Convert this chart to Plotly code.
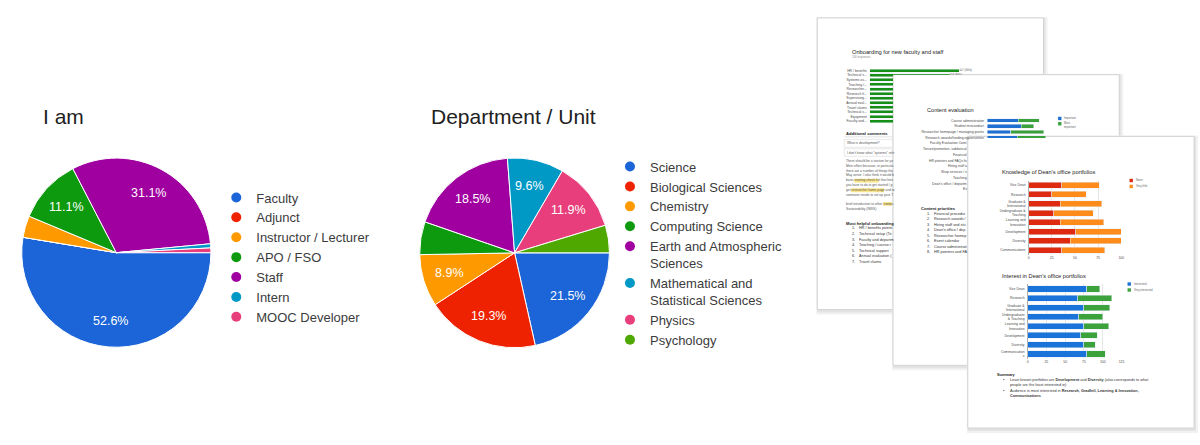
import math
import plotly.graph_objects as go

W, H = 1200, 445
FONT = "Liberation Sans, Arial, sans-serif"

# ---------------- data ----------------
role_labels = ["Faculty", "Adjunct", "Instructor / Lecturer", "APO / FSO", "Staff", "Intern", "MOOC Developer"]
role_values = [52.6, 0.0, 3.7, 11.1, 31.1, 0.7, 0.8]
role_colors = ["#1c65d8", "#ee2200", "#ff9900", "#0e9a0e", "#a0009f", "#0099c6", "#e83f7c"]

dept_labels = ["Science", "Biological Sciences", "Chemistry", "Computing Science",
               "Earth and Atmospheric<br>Sciences", "Mathematical and<br>Statistical Sciences",
               "Physics", "Psychology"]
dept_values = [21.5, 19.3, 8.9, 5.6, 18.5, 9.6, 11.9, 4.7]
dept_colors = ["#1c65d8", "#ee2200", "#ff9900", "#0e9a0e", "#a0009f", "#0099c6", "#e83f7c", "#4ea800"]

# back document: onboarding chart
onboard_labels = ["HR / benefits", "Technical setup", "Systems used", "Teaching / courses",
                  "Researcher homepage", "Research funding", "Supervising students",
                  "Annual evaluation", "Travel claims", "Technical support", "Equipment",
                  "Faculty and department"]
onboard_tick_labels = ["HR / benefits", "Technical s...", "Systems us...", "Teaching /...",
                       "Researcher...", "Research fi...", "Supervising...", "Annual eval...",
                       "Travel claims", "Technical s...", "Equipment", "Faculty and..."]
onboard_counts = [117, 104, 99, 95, 91, 88, 84, 80, 76, 71, 66, 60]
onboard_total = 130

# middle document: content evaluation (visible rows)
content_labels = ["Course administration", "Student misconduct",
                  "Researcher homepage / managing grants", "Research awards/funding opportunities"]
content_important = [45, 49, 34, 43]
content_most = [30, 18, 47, 41]
content_hidden_labels = ["Faculty Evaluation Comi", "Tenure/promotion, sabbatical", "Financial",
                         "HR pointers and FAQs fo", "Hiring staff a", "Shop services / s",
                         "Teaching", "Dean's office / departm", "Ev"]
content_priorities = ["Financial procedur", "Research awards /", "Hiring staff and stu",
                      "Dean's office / dep", "Researcher homep", "Event calendar",
                      "Course administrati", "HR pointers and FA"]

# front document
portfolio_labels = ["Vice Dean", "Research", "Graduate &<br>International", "Undergraduate &<br>Teaching",
                    "Learning and<br>Innovation", "Development", "Diversity", "Communications"]
interest_tick_labels = ["Vice Dean", "Research", "Graduate &<br>International", "Undergraduate<br>& Teaching",
                        "Learning and<br>Innovation", "Development", "Diversity", "Communication<br>s"]
knowledge_none = [36, 25, 34, 27, 34, 51, 45, 36]
knowledge_little = [40, 37, 45, 43, 47, 49, 55, 46]
interest_interested = [79, 67, 75, 68, 75, 71, 75, 79]
interest_very = [17, 45, 34, 32, 33, 22, 15, 24]

# ---------------- helpers ----------------
def fx(x):
    return x / W

def fy(y):
    return 1 - y / H

shapes = []
annotations = []

def rect(x0, y0, x1, y1, fill, line=None, lw=0):
    shapes.append(dict(type="rect", xref="paper", yref="paper", layer="below",
                       x0=fx(x0), x1=fx(x1), y0=fy(y1), y1=fy(y0), fillcolor=fill,
                       line=dict(color=line or fill, width=lw)))

def note(x, y, text, size, color="#444", anchor="left", bold=False):
    annotations.append(dict(x=fx(x), y=fy(y), xref="paper", yref="paper",
                            text=f"<b>{text}</b>" if bold else text, showarrow=False,
                            xanchor=anchor, yanchor="middle", align="left", borderpad=0,
                            font=dict(size=size, color=color, family=FONT)))

fig = go.Figure()

# ---------------- pies ----------------
PIE1 = dict(cx=115.7, cy=253.8, r=95.0)
PIE2 = dict(cx=515.3, cy=254.0, r=95.3)
LABEL_R = 0.72

def add_pie(labels, values, colors, geo, legend_name, min_label):
    fig.add_trace(go.Pie(labels=labels, values=values, sort=False, direction="clockwise",
                         rotation=90, textinfo="none", showlegend=False, hoverinfo="label+percent",
                         marker=dict(colors=colors, line=dict(color="white", width=1)),
                         domain=dict(x=[fx(geo["cx"] - geo["r"]), fx(geo["cx"] + geo["r"])],
                                     y=[fy(geo["cy"] + geo["r"]), fy(geo["cy"] - geo["r"])])))
    for lab, col in zip(labels, colors):
        fig.add_trace(go.Scatter(x=[None], y=[None], mode="markers", name=lab,
                                 marker=dict(color=col, size=10, symbol="circle"),
                                 legend=legend_name, showlegend=True, hoverinfo="skip",
                                 xaxis="x", yaxis="y"))
    total = sum(values)
    cum = 0.0
    for v in values:
        frac = v / total
        mid = math.radians((cum + frac / 2) * 360)
        cum += frac
        if v < min_label:
            continue
        x = geo["cx"] + LABEL_R * geo["r"] * math.cos(mid)
        y = geo["cy"] + LABEL_R * geo["r"] * math.sin(mid)
        annotations.append(dict(x=fx(x), y=fy(y), xref="paper", yref="paper", text=f"{v:.1f}%",
                                showarrow=False, xanchor="center", yanchor="middle",
                                font=dict(size=12.5, color="white", family=FONT)))

add_pie(role_labels, role_values, role_colors, PIE1, "legend", 5)
add_pie(dept_labels, dept_values, dept_colors, PIE2, "legend2", 7)

note(41, 117, "I am", 21, "#212121")
note(430.5, 117, "Department / Unit", 21, "#212121")

# ---------------- documents (paper sheets) ----------------
def sheet(x0, y0, x1, y1):
    rect(x0 - 1, y0 - 1, x1 + 4, y1 + 5, "#f2f2f2")
    rect(x0, y0, x1 + 2, y1 + 3, "#e3e3e3")
    rect(x0, y0, x1, y1, "white", "#d2d2d2", 1)

# back sheet
sheet(819, 18, 1046, 311)
rect(855.7, 179.6, 880.7, 183.4, "#fbe58a")
rect(852.7, 189.2, 886, 193.0, "#fbe58a")
rect(885, 202.9, 895, 206.6, "#fbe58a")
shapes.append(dict(type="line", xref="paper", yref="paper", layer="below", x0=fx(846), x1=fx(900),
                   y0=fy(137.5), y1=fy(137.5), line=dict(color="#d8d8d8", width=0.8)))
rect(846, 140, 900, 148, "rgba(0,0,0,0)", "#e2e2e2", 0.8)
rect(846, 149.5, 900, 157, "rgba(0,0,0,0)", "#e2e2e2", 0.8)
# middle sheet
sheet(895, 75, 1122, 367)
# front sheet
sheet(970, 137, 1197, 430)

# legend squares on sheets
def square(x, y, col, s=3.4):
    rect(x - s / 2, y - s / 2, x + s / 2, y + s / 2, col)

square(1062.3, 119, "#1f6fd0")
square(1062.3, 124.3, "#3aa03a")
square(1134, 181.3, "#de2a10")
square(1134, 187.3, "#ff8c1a")
square(1132, 285.3, "#1a73d8")
square(1132, 291.3, "#3ca33c")

# ---------------- sheet charts ----------------
TICK = dict(size=3.4, color="#4a4a4a", family=FONT)

# back sheet: onboarding, all rows clipped at the middle sheet's edge
fig.add_trace(go.Bar(y=onboard_labels, x=onboard_counts, orientation="h", marker_color="#168f16",
                     xaxis="x", yaxis="y", showlegend=False, hoverinfo="skip"))
# back sheet: top row not covered by middle sheet
fig.add_trace(go.Bar(y=onboard_labels, x=onboard_counts, orientation="h", marker_color="#168f16",
                     xaxis="x2", yaxis="y2", showlegend=False, hoverinfo="skip",
                     text=[f"{c} ({round(c / onboard_total * 100)}%)" for c in onboard_counts],
                     textposition="outside", textfont=dict(size=3.6, color="#444", family=FONT)))

# middle sheet: content evaluation
fig.add_trace(go.Bar(y=content_labels, x=content_important, orientation="h", marker_color="#1f6fd0",
                     xaxis="x3", yaxis="y3", showlegend=False, hoverinfo="skip"))
fig.add_trace(go.Bar(y=content_labels, x=content_most, orientation="h", marker_color="#3aa03a",
                     xaxis="x3", yaxis="y3", showlegend=False, hoverinfo="skip"))

# front sheet: knowledge / interest
fig.add_trace(go.Bar(y=portfolio_labels, x=knowledge_none, orientation="h", marker_color="#de2a10",
                     xaxis="x4", yaxis="y4", showlegend=False, hoverinfo="skip"))
fig.add_trace(go.Bar(y=portfolio_labels, x=knowledge_little, orientation="h", marker_color="#ff8c1a",
                     xaxis="x4", yaxis="y4", showlegend=False, hoverinfo="skip"))
fig.add_trace(go.Bar(y=portfolio_labels, x=interest_interested, orientation="h", marker_color="#1a73d8",
                     xaxis="x5", yaxis="y5", showlegend=False, hoverinfo="skip"))
fig.add_trace(go.Bar(y=portfolio_labels, x=interest_very, orientation="h", marker_color="#3ca33c",
                     xaxis="x5", yaxis="y5", showlegend=False, hoverinfo="skip"))

def xax(x0, x1, y_anchor, rng, show=False, dtick=None):
    d = dict(domain=[fx(x0), fx(x1)], anchor=y_anchor, range=rng, fixedrange=True,
             showgrid=show, gridcolor="#e6e6e6", gridwidth=0.6, zeroline=show,
             zerolinecolor="#aaaaaa", zerolinewidth=0.6, showline=False, ticks="",
             showticklabels=show, tickfont=TICK)
    if dtick:
        d.update(tickmode="linear", tick0=0, dtick=dtick)
    return d

def yax(y_top, y_bot, x_anchor, cats, rng, ticktext=None, show=True):
    return dict(domain=[fy(y_bot), fy(y_top)], anchor=x_anchor, type="category",
                categoryorder="array", categoryarray=cats, range=rng, fixedrange=True,
                showgrid=False, zeroline=False, showline=False, ticks="",
                tickmode="array", tickvals=cats, ticktext=ticktext or cats,
                showticklabels=show, tickfont=TICK, ticklabelstandoff=2)

# onboarding rows: centres 71 .. 121.7 (step 4.61)
ob_step = 4.61
ob_top = 71 - ob_step / 2
ob_bot = 71 + ob_step * 11 + ob_step / 2
ob_px = 0.769  # px per respondent
x1_axis = xax(871.7, 895, "y", [0, (895 - 871.7) / ob_px])
y1_axis = yax(ob_top, ob_bot, "x", onboard_labels, [11.5, -0.5], onboard_tick_labels)
x2_axis = xax(871.7, 871.7 + 160 * ob_px, "y2", [0, 160])
y2_axis = yax(ob_top, 75, "x2", onboard_labels, [-0.5 + (75 - ob_top) / ob_step, -0.5], show=False)

# content evaluation rows: centres 121 + i*5.77
ce_step = 5.77
ce_top = 121 - ce_step / 2
ce_bot = 138.5
x3_axis = xax(989.3, 1059.3, "y3", [0, 100])
y3_axis = yax(ce_top, ce_bot, "x3", content_labels, [(ce_bot - 121) / ce_step, -0.5])

# knowledge rows 186 + i*9.33
kn_step = 9.33
x4_axis = xax(1031, 1124, "y4", [0, 100], show=True, dtick=25)
y4_axis = yax(186 - kn_step / 2, 186 + 7 * kn_step + kn_step / 2, "x4", portfolio_labels, [7.5, -0.5])
x5_axis = xax(1030, 1124.3, "y5", [0, 125], show=True, dtick=25)
y5_axis = yax(290.3 - kn_step / 2, 290.3 + 7 * kn_step + kn_step / 2, "x5", portfolio_labels,
              [7.5, -0.5], interest_tick_labels)

# ---------------- sheet texts ----------------
BODY = 3.8
# back sheet
note(853, 52.3, "Onboarding for new faculty and staff", 5.7, "#222")
note(853, 57.6, "130 responses", 2.8, "#888")
note(846.5, 134.3, "Additional comments", 4.1, "#222", bold=True)
note(848, 144, "What is development?", 3.3, "#555")
note(848, 153.3, "I don't know what \"systems\" refe", 3.3, "#555")
para = ["There should be a section for yo", "Mein effect because, in particula",
        "there are a number of things tha", "May arrive. I also think it would b",
        "basic starting check list that lists", "you have to do to get started / g",
        "get researcher home page and w", "someone needs to set up your T"]
for i, s in enumerate(para):
    note(846.5, 161.8 + i * 4.8, s, 3.3, "#555")
note(846.5, 204.7, "brief introduction to other campu", 3.3, "#555")
note(846.5, 209.7, "Sustainability (NWS)", 3.3, "#555")
note(846.5, 225, "Most helpful onboarding", 4.1, "#222", bold=True)
helpful = ["HR / benefits pointe", "Technical setup (Te", "Faculty and departm",
           "Teaching / course r", "Technical support", "Annual evaluation (", "Travel claims"]
for i, s in enumerate(helpful):
    note(857.5, 229.5 + i * 5.55, f"{i + 1}.", BODY, "#333", anchor="right")
    note(860, 229.5 + i * 5.55, s, BODY, "#333")

# middle sheet
note(928.3, 110.7, "Content evaluation", 5.6, "#222")
note(1065.5, 119, "Important", 2.8, "#666")
note(1065.5, 126, "Most<br>important", 2.8, "#666")
for i, s in enumerate(content_hidden_labels):
    note(970, 121 + (i + 4) * ce_step, s, 3.4, "#4a4a4a", anchor="right")
note(922.5, 209, "Content priorities", 4.1, "#222", bold=True)
for i, s in enumerate(content_priorities):
    note(933.5, 214.7 + i * 5.5, f"{i + 1}.", BODY, "#333", anchor="right")
    note(935.5, 214.7 + i * 5.5, s, BODY, "#333")

# front sheet
note(1003, 173, "Knowledge of Dean's office portfolios", 5.7, "#222")
note(1137.5, 181.3, "None", 2.8, "#666")
note(1137.5, 187.3, "Very little", 2.8, "#666")
note(1003, 277, "Interest in Dean's office portfolios", 5.7, "#222")
note(1135.5, 285.3, "Interested", 2.8, "#666")
note(1135.5, 291.3, "Very interested", 2.8, "#666")
note(998, 376, "Summary", 3.9, "#222", bold=True)
note(1006.5, 381.7, "•", BODY, "#222", anchor="center")
note(1011, 384.3, "Least known portfolios are <b>Development</b> and <b>Diversity</b> (also corresponds to what"
     "<br>people are the least interested in)", BODY, "#333")
note(1006.5, 392.7, "•", BODY, "#222", anchor="center")
note(1011, 395.3, "Audience is most interested in <b>Research, GradIntl, Learning &amp; Innovation,"
     "<br>Communications</b>", BODY, "#333")

fig.update_layout(
    width=W, height=H, autosize=False,
    margin=dict(l=0, r=0, t=0, b=0, pad=0),
    paper_bgcolor="white", plot_bgcolor="rgba(0,0,0,0)",
    barmode="stack", bargap=0.35,
    font=dict(family=FONT, color="#444"),
    xaxis=x1_axis, yaxis=y1_axis, xaxis2=x2_axis, yaxis2=y2_axis,
    xaxis3=x3_axis, yaxis3=y3_axis, xaxis4=x4_axis, yaxis4=y4_axis,
    xaxis5=x5_axis, yaxis5=y5_axis,
    legend=dict(x=fx(216), y=fy(183.3), xanchor="left", yanchor="top", traceorder="normal",
                font=dict(size=13, color="#3c3c3c", family=FONT), bgcolor="rgba(0,0,0,0)",
                borderwidth=0, tracegroupgap=0, itemclick=False, itemdoubleclick=False),
    legend2=dict(x=fx(611), y=fy(152.3), xanchor="left", yanchor="top", valign="top",
                 traceorder="normal",
                 font=dict(size=13, color="#3c3c3c", family=FONT), bgcolor="rgba(0,0,0,0)",
                 borderwidth=0, tracegroupgap=0, itemclick=False, itemdoubleclick=False),
    shapes=shapes, annotations=annotations,
    hovermode=False,
)

fig.write_html("out.html", config={"displayModeBar": False})
